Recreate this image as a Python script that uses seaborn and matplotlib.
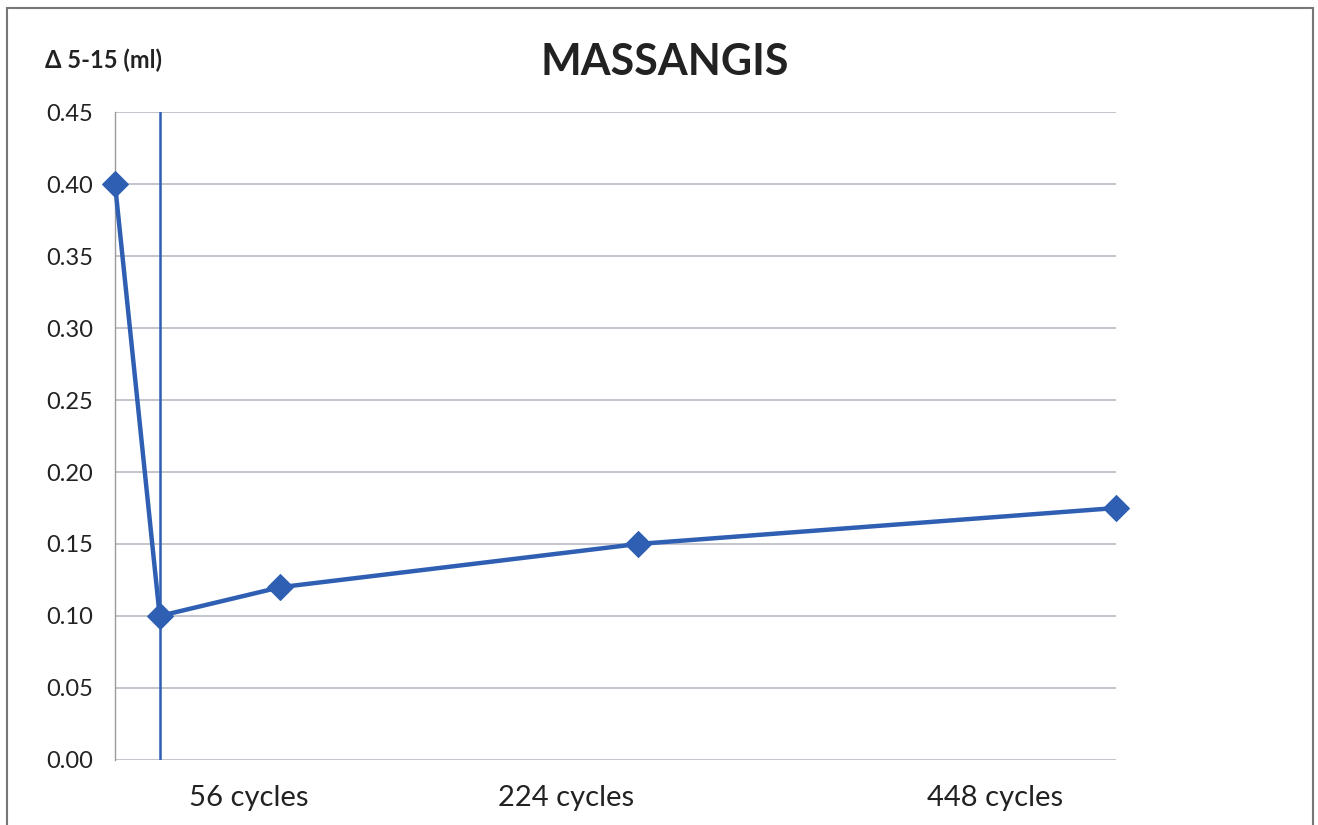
import matplotlib
matplotlib.use("Agg")
import matplotlib.pyplot as plt
import matplotlib.patches as mpatches
import pandas as pd
import seaborn as sns

# data
cycles = [0, 20, 74, 234, 448]
delta_volume = [0.40, 0.10, 0.12, 0.15, 0.175]
marker_x = 20
tick_positions = [60, 202, 394]
tick_labels = ["56 cycles", "224 cycles", "448 cycles"]
y_ticks = [0.00, 0.05, 0.10, 0.15, 0.20, 0.25, 0.30, 0.35, 0.40, 0.45]

LINE_BLUE = "#2f5fb3"

sns.set_style("white")
plt.rcParams["font.family"] = ["Lato", "DejaVu Sans"]

df = pd.DataFrame({"cycles": cycles, "delta": delta_volume})

fig = plt.figure(figsize=(13.18, 8.25), dpi=100)
ax = fig.add_axes([115 / 1318, 1 - 760 / 825, (1116 - 115) / 1318, (760 - 112) / 825])

for y in y_ticks:
    ax.axhline(y, color="#c4c4cc", lw=1.4, zorder=0)

ax.axvline(marker_x, color=LINE_BLUE, lw=1.8, zorder=1)

sns.lineplot(ax=ax, data=df, x="cycles", y="delta", color=LINE_BLUE, lw=3.2,
             marker="D", markersize=13, markeredgecolor=LINE_BLUE, clip_on=False, zorder=3)

ax.set_xlim(0, 448)
ax.set_ylim(0, 0.45)
ax.set_yticks(y_ticks)
ax.set_yticklabels([f"{v:.2f}" for v in y_ticks], fontsize=17, color="#222222")
ax.set_xticks(tick_positions)
ax.set_xticklabels(tick_labels, fontsize=21, color="#222222")
ax.tick_params(axis="x", length=0, pad=18)
ax.tick_params(axis="y", length=0, pad=16)
ax.set_xlabel("")
ax.set_ylabel("")

for side in ["top", "right", "bottom"]:
    ax.spines[side].set_visible(False)
ax.spines["left"].set_color("#9a9a9a")
ax.spines["left"].set_linewidth(1.0)

fig.text(540 / 1318, 1 - 62 / 825, "MASSANGIS", fontsize=31, fontweight="bold",
         color="#222222", va="center", ha="left")
fig.text(45 / 1318, 1 - 60 / 825, "Δ 5-15 (ml)", fontsize=17, fontweight="bold",
         color="#222222", va="center", ha="left")

border = mpatches.Rectangle((7 / 1318, -0.05), (1313 - 7) / 1318, 1 - 8 / 825 + 0.05,
                            transform=fig.transFigure, fill=False, edgecolor="#777777",
                            lw=1.5, clip_on=False)
fig.patches.append(border)

fig.savefig("out.png", dpi=100, facecolor="white")
plt.close(fig)
